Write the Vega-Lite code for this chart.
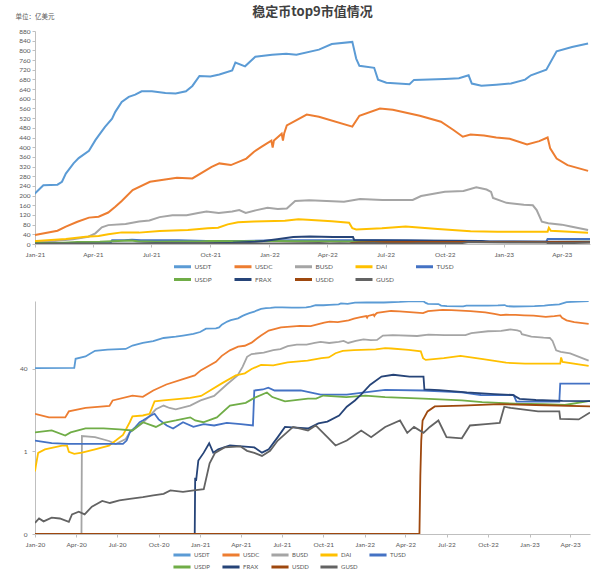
{
  "$schema": "https://vega.github.io/schema/vega-lite/v6.json",
  "padding": {"left": 15, "top": 6, "right": 8, "bottom": 2},
  "background": "white",
  "datasets": {
    "coins": [
      {"d":"2020-01-01","s":"USDT","v":41.5},{"d":"2020-03-28","s":"USDT","v":42},{"d":"2020-03-31","s":"USDT","v":63},{"d":"2020-04-22","s":"USDT","v":70},{"d":"2020-05-01","s":"USDT","v":78},{"d":"2020-05-13","s":"USDT","v":90},{"d":"2020-06-10","s":"USDT","v":95},{"d":"2020-07-20","s":"USDT","v":98},{"d":"2020-08-04","s":"USDT","v":114},{"d":"2020-08-27","s":"USDT","v":128},{"d":"2020-09-19","s":"USDT","v":139},{"d":"2020-10-12","s":"USDT","v":160},{"d":"2020-11-08","s":"USDT","v":170},{"d":"2020-11-24","s":"USDT","v":178},{"d":"2020-12-17","s":"USDT","v":192},{"d":"2021-01-01","s":"USDT","v":209},{"d":"2021-01-14","s":"USDT","v":243},{"d":"2021-02-05","s":"USDT","v":245},{"d":"2021-02-12","s":"USDT","v":257},{"d":"2021-02-18","s":"USDT","v":291},{"d":"2021-03-02","s":"USDT","v":333},{"d":"2021-03-10","s":"USDT","v":355},{"d":"2021-03-26","s":"USDT","v":385},{"d":"2021-04-05","s":"USDT","v":429},{"d":"2021-04-10","s":"USDT","v":448},{"d":"2021-04-20","s":"USDT","v":484},{"d":"2021-05-01","s":"USDT","v":518},{"d":"2021-05-06","s":"USDT","v":546},{"d":"2021-05-16","s":"USDT","v":587},{"d":"2021-05-27","s":"USDT","v":608},{"d":"2021-06-06","s":"USDT","v":617},{"d":"2021-06-16","s":"USDT","v":631},{"d":"2021-07-02","s":"USDT","v":631},{"d":"2021-07-23","s":"USDT","v":624},{"d":"2021-08-08","s":"USDT","v":622},{"d":"2021-08-24","s":"USDT","v":631},{"d":"2021-09-03","s":"USDT","v":653},{"d":"2021-09-14","s":"USDT","v":694},{"d":"2021-10-01","s":"USDT","v":692},{"d":"2021-10-15","s":"USDT","v":700},{"d":"2021-11-04","s":"USDT","v":717},{"d":"2021-11-09","s":"USDT","v":750},{"d":"2021-11-24","s":"USDT","v":734},{"d":"2021-12-10","s":"USDT","v":774},{"d":"2022-01-05","s":"USDT","v":782},{"d":"2022-01-27","s":"USDT","v":786},{"d":"2022-02-12","s":"USDT","v":782},{"d":"2022-03-19","s":"USDT","v":803},{"d":"2022-04-08","s":"USDT","v":826},{"d":"2022-05-10","s":"USDT","v":835},{"d":"2022-05-16","s":"USDT","v":766},{"d":"2022-05-21","s":"USDT","v":736},{"d":"2022-06-13","s":"USDT","v":728},{"d":"2022-06-19","s":"USDT","v":679},{"d":"2022-07-02","s":"USDT","v":666},{"d":"2022-08-07","s":"USDT","v":660},{"d":"2022-08-14","s":"USDT","v":678},{"d":"2022-10-01","s":"USDT","v":682},{"d":"2022-10-23","s":"USDT","v":685},{"d":"2022-11-07","s":"USDT","v":697},{"d":"2022-11-12","s":"USDT","v":663},{"d":"2022-11-27","s":"USDT","v":654},{"d":"2022-12-20","s":"USDT","v":658},{"d":"2023-01-12","s":"USDT","v":663},{"d":"2023-02-03","s":"USDT","v":679},{"d":"2023-02-12","s":"USDT","v":697},{"d":"2023-03-08","s":"USDT","v":720},{"d":"2023-03-24","s":"USDT","v":796},{"d":"2023-04-17","s":"USDT","v":814},{"d":"2023-05-12","s":"USDT","v":828},
      {"d":"2020-01-01","s":"USDC","v":5.4},{"d":"2020-02-01","s":"USDC","v":4.6},{"d":"2020-03-08","s":"USDC","v":4.6},{"d":"2020-03-16","s":"USDC","v":6.0},{"d":"2020-04-22","s":"USDC","v":7.0},{"d":"2020-06-14","s":"USDC","v":7.7},{"d":"2020-06-21","s":"USDC","v":9.8},{"d":"2020-08-04","s":"USDC","v":12.2},{"d":"2020-08-27","s":"USDC","v":11.5},{"d":"2020-09-19","s":"USDC","v":15.3},{"d":"2020-10-18","s":"USDC","v":20},{"d":"2020-11-24","s":"USDC","v":25.4},{"d":"2020-12-20","s":"USDC","v":30},{"d":"2021-01-03","s":"USDC","v":38},{"d":"2021-02-05","s":"USDC","v":55},{"d":"2021-02-18","s":"USDC","v":72},{"d":"2021-03-08","s":"USDC","v":92},{"d":"2021-03-26","s":"USDC","v":109},{"d":"2021-04-10","s":"USDC","v":113},{"d":"2021-04-25","s":"USDC","v":130},{"d":"2021-05-06","s":"USDC","v":154},{"d":"2021-05-16","s":"USDC","v":178},{"d":"2021-06-02","s":"USDC","v":223},{"d":"2021-06-29","s":"USDC","v":257},{"d":"2021-08-10","s":"USDC","v":274},{"d":"2021-09-03","s":"USDC","v":271},{"d":"2021-10-03","s":"USDC","v":319},{"d":"2021-10-15","s":"USDC","v":333},{"d":"2021-11-02","s":"USDC","v":326},{"d":"2021-11-26","s":"USDC","v":353},{"d":"2021-12-08","s":"USDC","v":381},{"d":"2021-12-20","s":"USDC","v":402},{"d":"2022-01-04","s":"USDC","v":427},{"d":"2022-01-06","s":"USDC","v":398},{"d":"2022-01-08","s":"USDC","v":428},{"d":"2022-01-20","s":"USDC","v":456},{"d":"2022-01-22","s":"USDC","v":427},{"d":"2022-01-24","s":"USDC","v":458},{"d":"2022-01-28","s":"USDC","v":490},{"d":"2022-02-28","s":"USDC","v":535},{"d":"2022-03-19","s":"USDC","v":526},{"d":"2022-05-10","s":"USDC","v":485},{"d":"2022-05-21","s":"USDC","v":530},{"d":"2022-06-22","s":"USDC","v":560},{"d":"2022-07-12","s":"USDC","v":555},{"d":"2022-08-23","s":"USDC","v":530},{"d":"2022-09-25","s":"USDC","v":505},{"d":"2022-10-15","s":"USDC","v":470},{"d":"2022-10-29","s":"USDC","v":443},{"d":"2022-11-10","s":"USDC","v":452},{"d":"2022-12-01","s":"USDC","v":448},{"d":"2022-12-20","s":"USDC","v":440},{"d":"2023-01-10","s":"USDC","v":435},{"d":"2023-02-06","s":"USDC","v":411},{"d":"2023-02-25","s":"USDC","v":425},{"d":"2023-03-10","s":"USDC","v":440},{"d":"2023-03-14","s":"USDC","v":395},{"d":"2023-03-24","s":"USDC","v":353},{"d":"2023-04-10","s":"USDC","v":326},{"d":"2023-05-12","s":"USDC","v":302},
      {"d":"2020-01-01","s":"BUSD","v":0.025},{"d":"2020-04-13","s":"BUSD","v":0.025},{"d":"2020-04-14","s":"BUSD","v":2.0},{"d":"2020-05-13","s":"BUSD","v":1.9},{"d":"2020-06-13","s":"BUSD","v":1.6},{"d":"2020-06-28","s":"BUSD","v":1.4},{"d":"2020-07-20","s":"BUSD","v":1.75},{"d":"2020-07-29","s":"BUSD","v":2.35},{"d":"2020-08-27","s":"BUSD","v":3.6},{"d":"2020-09-25","s":"BUSD","v":6.6},{"d":"2020-10-12","s":"BUSD","v":7.8},{"d":"2020-10-25","s":"BUSD","v":7.0},{"d":"2020-11-08","s":"BUSD","v":6.6},{"d":"2020-12-10","s":"BUSD","v":7.8},{"d":"2021-01-02","s":"BUSD","v":9.8},{"d":"2021-02-01","s":"BUSD","v":12},{"d":"2021-03-01","s":"BUSD","v":20},{"d":"2021-03-25","s":"BUSD","v":30},{"d":"2021-04-05","s":"BUSD","v":44},{"d":"2021-04-15","s":"BUSD","v":69},{"d":"2021-04-25","s":"BUSD","v":78},{"d":"2021-05-22","s":"BUSD","v":83},{"d":"2021-06-12","s":"BUSD","v":93},{"d":"2021-06-28","s":"BUSD","v":97},{"d":"2021-07-14","s":"BUSD","v":111},{"d":"2021-08-03","s":"BUSD","v":119},{"d":"2021-08-25","s":"BUSD","v":119},{"d":"2021-09-12","s":"BUSD","v":128},{"d":"2021-09-25","s":"BUSD","v":134},{"d":"2021-10-14","s":"BUSD","v":128},{"d":"2021-11-04","s":"BUSD","v":134},{"d":"2021-11-15","s":"BUSD","v":140},{"d":"2021-11-25","s":"BUSD","v":128},{"d":"2021-12-12","s":"BUSD","v":140},{"d":"2021-12-29","s":"BUSD","v":150},{"d":"2022-01-14","s":"BUSD","v":145},{"d":"2022-01-28","s":"BUSD","v":147},{"d":"2022-02-10","s":"BUSD","v":178},{"d":"2022-03-04","s":"BUSD","v":181},{"d":"2022-04-27","s":"BUSD","v":175},{"d":"2022-05-22","s":"BUSD","v":186},{"d":"2022-06-26","s":"BUSD","v":182},{"d":"2022-08-12","s":"BUSD","v":182},{"d":"2022-08-25","s":"BUSD","v":198},{"d":"2022-10-01","s":"BUSD","v":216},{"d":"2022-10-30","s":"BUSD","v":219},{"d":"2022-11-19","s":"BUSD","v":234},{"d":"2022-12-05","s":"BUSD","v":225},{"d":"2022-12-12","s":"BUSD","v":215},{"d":"2022-12-15","s":"BUSD","v":190},{"d":"2023-01-05","s":"BUSD","v":170},{"d":"2023-02-01","s":"BUSD","v":162},{"d":"2023-02-15","s":"BUSD","v":160},{"d":"2023-02-21","s":"BUSD","v":140},{"d":"2023-03-01","s":"BUSD","v":92},{"d":"2023-03-11","s":"BUSD","v":86},{"d":"2023-04-01","s":"BUSD","v":80},{"d":"2023-04-15","s":"BUSD","v":72},{"d":"2023-05-12","s":"BUSD","v":58},
      {"d":"2020-01-01","s":"DAI","v":0.41},{"d":"2020-01-03","s":"DAI","v":0.53},{"d":"2020-01-08","s":"DAI","v":0.94},{"d":"2020-01-23","s":"DAI","v":1.1},{"d":"2020-03-01","s":"DAI","v":1.3},{"d":"2020-03-12","s":"DAI","v":1.3},{"d":"2020-03-16","s":"DAI","v":0.99},{"d":"2020-03-28","s":"DAI","v":0.9},{"d":"2020-04-14","s":"DAI","v":0.95},{"d":"2020-05-13","s":"DAI","v":1.1},{"d":"2020-06-13","s":"DAI","v":1.3},{"d":"2020-06-28","s":"DAI","v":1.63},{"d":"2020-07-14","s":"DAI","v":2.1},{"d":"2020-07-29","s":"DAI","v":3.7},{"d":"2020-08-04","s":"DAI","v":4.8},{"d":"2020-08-27","s":"DAI","v":5.0},{"d":"2020-09-11","s":"DAI","v":5.4},{"d":"2020-09-22","s":"DAI","v":9.4},{"d":"2020-10-12","s":"DAI","v":9.8},{"d":"2020-12-10","s":"DAI","v":11},{"d":"2021-01-03","s":"DAI","v":12},{"d":"2021-02-18","s":"DAI","v":21},{"d":"2021-03-21","s":"DAI","v":30},{"d":"2021-04-10","s":"DAI","v":33},{"d":"2021-04-25","s":"DAI","v":40},{"d":"2021-05-16","s":"DAI","v":48},{"d":"2021-06-12","s":"DAI","v":47},{"d":"2021-07-14","s":"DAI","v":54},{"d":"2021-08-27","s":"DAI","v":58},{"d":"2021-09-27","s":"DAI","v":65},{"d":"2021-10-13","s":"DAI","v":67},{"d":"2021-10-28","s":"DAI","v":81},{"d":"2021-11-13","s":"DAI","v":90},{"d":"2021-12-08","s":"DAI","v":93},{"d":"2022-01-25","s":"DAI","v":96},{"d":"2022-02-15","s":"DAI","v":102},{"d":"2022-03-01","s":"DAI","v":100},{"d":"2022-04-08","s":"DAI","v":94},{"d":"2022-05-05","s":"DAI","v":88},{"d":"2022-05-10","s":"DAI","v":65},{"d":"2022-05-16","s":"DAI","v":60},{"d":"2022-06-25","s":"DAI","v":65},{"d":"2022-08-01","s":"DAI","v":72},{"d":"2022-09-20","s":"DAI","v":62},{"d":"2022-11-10","s":"DAI","v":53},{"d":"2022-12-22","s":"DAI","v":51},{"d":"2023-03-10","s":"DAI","v":51},{"d":"2023-03-12","s":"DAI","v":67},{"d":"2023-03-15","s":"DAI","v":55},{"d":"2023-05-12","s":"DAI","v":46},
      {"d":"2020-01-01","s":"TUSD","v":1.63},{"d":"2020-02-07","s":"TUSD","v":1.45},{"d":"2020-03-15","s":"TUSD","v":1.4},{"d":"2020-05-01","s":"TUSD","v":1.4},{"d":"2020-07-14","s":"TUSD","v":1.4},{"d":"2020-07-22","s":"TUSD","v":1.63},{"d":"2020-07-29","s":"TUSD","v":2.35},{"d":"2020-08-11","s":"TUSD","v":3.0},{"d":"2020-08-20","s":"TUSD","v":3.7},{"d":"2020-08-27","s":"TUSD","v":4.0},{"d":"2020-09-14","s":"TUSD","v":5.0},{"d":"2020-09-22","s":"TUSD","v":5.4},{"d":"2020-10-01","s":"TUSD","v":4.2},{"d":"2020-10-19","s":"TUSD","v":3.2},{"d":"2020-11-02","s":"TUSD","v":2.8},{"d":"2020-11-24","s":"TUSD","v":3.7},{"d":"2020-12-17","s":"TUSD","v":3.0},{"d":"2021-01-09","s":"TUSD","v":3.4},{"d":"2021-02-01","s":"TUSD","v":3.2},{"d":"2021-03-01","s":"TUSD","v":3.6},{"d":"2021-04-01","s":"TUSD","v":3.4},{"d":"2021-04-28","s":"TUSD","v":3.2},{"d":"2021-05-01","s":"TUSD","v":15.3},{"d":"2021-05-20","s":"TUSD","v":16},{"d":"2021-06-01","s":"TUSD","v":17.4},{"d":"2021-06-15","s":"TUSD","v":15.3},{"d":"2021-08-12","s":"TUSD","v":15.3},{"d":"2021-09-25","s":"TUSD","v":12.7},{"d":"2021-11-22","s":"TUSD","v":12.7},{"d":"2022-01-01","s":"TUSD","v":14},{"d":"2022-02-15","s":"TUSD","v":15.7},{"d":"2022-05-11","s":"TUSD","v":15.3},{"d":"2022-08-04","s":"TUSD","v":14},{"d":"2022-09-15","s":"TUSD","v":12.5},{"d":"2022-11-27","s":"TUSD","v":12.4},{"d":"2022-12-03","s":"TUSD","v":9.3},{"d":"2023-03-08","s":"TUSD","v":9.3},{"d":"2023-03-10","s":"TUSD","v":20.8},{"d":"2023-05-15","s":"TUSD","v":20.8},
      {"d":"2020-01-01","s":"USDP","v":2.35},{"d":"2020-02-07","s":"USDP","v":2.56},{"d":"2020-03-08","s":"USDP","v":2.04},{"d":"2020-03-20","s":"USDP","v":2.35},{"d":"2020-04-22","s":"USDP","v":2.8},{"d":"2020-06-01","s":"USDP","v":2.8},{"d":"2020-07-06","s":"USDP","v":2.7},{"d":"2020-08-04","s":"USDP","v":2.56},{"d":"2020-08-27","s":"USDP","v":3.7},{"d":"2020-09-25","s":"USDP","v":3.0},{"d":"2020-10-12","s":"USDP","v":3.6},{"d":"2020-11-08","s":"USDP","v":4.0},{"d":"2020-12-10","s":"USDP","v":4.6},{"d":"2020-12-21","s":"USDP","v":4.0},{"d":"2021-01-08","s":"USDP","v":3.7},{"d":"2021-02-07","s":"USDP","v":4.6},{"d":"2021-03-08","s":"USDP","v":7.8},{"d":"2021-04-12","s":"USDP","v":8.8},{"d":"2021-05-01","s":"USDP","v":11},{"d":"2021-05-29","s":"USDP","v":14},{"d":"2021-06-10","s":"USDP","v":11.4},{"d":"2021-07-08","s":"USDP","v":9.4},{"d":"2021-08-28","s":"USDP","v":10.6},{"d":"2021-09-15","s":"USDP","v":10.6},{"d":"2021-10-01","s":"USDP","v":12.2},{"d":"2021-11-21","s":"USDP","v":11.4},{"d":"2022-01-02","s":"USDP","v":12.2},{"d":"2022-02-15","s":"USDP","v":11.4},{"d":"2022-05-11","s":"USDP","v":10.6},{"d":"2022-08-04","s":"USDP","v":9.8},{"d":"2022-09-18","s":"USDP","v":9.1},{"d":"2022-12-01","s":"USDP","v":8.5},{"d":"2023-02-01","s":"USDP","v":8.3},{"d":"2023-03-20","s":"USDP","v":8.0},{"d":"2023-05-15","s":"USDP","v":9.6},
      {"d":"2020-01-01","s":"FRAX","v":0.025},{"d":"2020-12-20","s":"FRAX","v":0.025},{"d":"2020-12-21","s":"FRAX","v":0.31},{"d":"2020-12-23","s":"FRAX","v":0.27},{"d":"2020-12-28","s":"FRAX","v":0.67},{"d":"2021-01-09","s":"FRAX","v":0.95},{"d":"2021-01-21","s":"FRAX","v":1.45},{"d":"2021-01-30","s":"FRAX","v":0.95},{"d":"2021-02-10","s":"FRAX","v":1.1},{"d":"2021-03-08","s":"FRAX","v":1.31},{"d":"2021-05-01","s":"FRAX","v":1.2},{"d":"2021-05-18","s":"FRAX","v":0.95},{"d":"2021-06-02","s":"FRAX","v":1.1},{"d":"2021-06-22","s":"FRAX","v":1.9},{"d":"2021-07-08","s":"FRAX","v":3.0},{"d":"2021-08-28","s":"FRAX","v":2.8},{"d":"2021-09-20","s":"FRAX","v":3.5},{"d":"2021-10-10","s":"FRAX","v":3.8},{"d":"2021-11-05","s":"FRAX","v":5.0},{"d":"2021-11-22","s":"FRAX","v":7.4},{"d":"2021-12-10","s":"FRAX","v":9.8},{"d":"2021-12-23","s":"FRAX","v":12.6},{"d":"2022-01-13","s":"FRAX","v":19.8},{"d":"2022-02-07","s":"FRAX","v":28.5},{"d":"2022-03-05","s":"FRAX","v":30.9},{"d":"2022-04-10","s":"FRAX","v":28.5},{"d":"2022-05-11","s":"FRAX","v":28.5},{"d":"2022-05-13","s":"FRAX","v":16},{"d":"2022-06-15","s":"FRAX","v":15.5},{"d":"2022-08-15","s":"FRAX","v":14},{"d":"2022-10-15","s":"FRAX","v":13},{"d":"2022-11-25","s":"FRAX","v":12.5},{"d":"2022-12-10","s":"FRAX","v":10.5},{"d":"2023-01-15","s":"FRAX","v":10},{"d":"2023-03-15","s":"FRAX","v":9.6},{"d":"2023-05-15","s":"FRAX","v":9.5},
      {"d":"2020-01-01","s":"USDD","v":0.025},{"d":"2022-05-02","s":"USDD","v":0.025},{"d":"2022-05-04","s":"USDD","v":0.34},{"d":"2022-05-06","s":"USDD","v":1.63},{"d":"2022-05-09","s":"USDD","v":4.0},{"d":"2022-05-20","s":"USDD","v":6.0},{"d":"2022-06-05","s":"USDD","v":7.5},{"d":"2022-08-04","s":"USDD","v":7.8},{"d":"2022-10-27","s":"USDD","v":8.3},{"d":"2023-01-15","s":"USDD","v":8.0},{"d":"2023-05-15","s":"USDD","v":7.5},
      {"d":"2020-01-01","s":"GUSD","v":0.041},{"d":"2020-01-10","s":"GUSD","v":0.05},{"d":"2020-01-20","s":"GUSD","v":0.044},{"d":"2020-02-07","s":"GUSD","v":0.052},{"d":"2020-02-25","s":"GUSD","v":0.05},{"d":"2020-03-16","s":"GUSD","v":0.043},{"d":"2020-03-23","s":"GUSD","v":0.06},{"d":"2020-04-07","s":"GUSD","v":0.068},{"d":"2020-04-20","s":"GUSD","v":0.06},{"d":"2020-05-06","s":"GUSD","v":0.085},{"d":"2020-05-29","s":"GUSD","v":0.11},{"d":"2020-06-15","s":"GUSD","v":0.1},{"d":"2020-07-06","s":"GUSD","v":0.112},{"d":"2020-07-29","s":"GUSD","v":0.12},{"d":"2020-08-27","s":"GUSD","v":0.13},{"d":"2020-09-19","s":"GUSD","v":0.14},{"d":"2020-10-12","s":"GUSD","v":0.15},{"d":"2020-10-27","s":"GUSD","v":0.175},{"d":"2020-11-24","s":"GUSD","v":0.165},{"d":"2020-12-18","s":"GUSD","v":0.175},{"d":"2021-01-09","s":"GUSD","v":0.185},{"d":"2021-01-22","s":"GUSD","v":0.59},{"d":"2021-02-03","s":"GUSD","v":0.94},{"d":"2021-02-24","s":"GUSD","v":1.2},{"d":"2021-03-31","s":"GUSD","v":1.26},{"d":"2021-04-15","s":"GUSD","v":1.03},{"d":"2021-05-01","s":"GUSD","v":0.94},{"d":"2021-05-18","s":"GUSD","v":0.82},{"d":"2021-06-05","s":"GUSD","v":1.03},{"d":"2021-06-22","s":"GUSD","v":1.63},{"d":"2021-07-26","s":"GUSD","v":3.0},{"d":"2021-08-28","s":"GUSD","v":2.56},{"d":"2021-09-14","s":"GUSD","v":3.2},{"d":"2021-10-10","s":"GUSD","v":1.9},{"d":"2021-10-28","s":"GUSD","v":1.31},{"d":"2021-11-22","s":"GUSD","v":1.63},{"d":"2021-12-24","s":"GUSD","v":2.56},{"d":"2022-01-15","s":"GUSD","v":1.9},{"d":"2022-02-15","s":"GUSD","v":3.0},{"d":"2022-03-20","s":"GUSD","v":4.0},{"d":"2022-04-05","s":"GUSD","v":2.3},{"d":"2022-04-20","s":"GUSD","v":3.0},{"d":"2022-05-11","s":"GUSD","v":2.3},{"d":"2022-05-25","s":"GUSD","v":3.0},{"d":"2022-06-13","s":"GUSD","v":4.0},{"d":"2022-07-01","s":"GUSD","v":1.9},{"d":"2022-08-04","s":"GUSD","v":1.8},{"d":"2022-08-22","s":"GUSD","v":3.2},{"d":"2022-09-26","s":"GUSD","v":3.4},{"d":"2022-10-27","s":"GUSD","v":3.6},{"d":"2022-11-06","s":"GUSD","v":7.4},{"d":"2022-11-20","s":"GUSD","v":7.0},{"d":"2023-01-20","s":"GUSD","v":6.0},{"d":"2023-03-08","s":"GUSD","v":6.0},{"d":"2023-03-10","s":"GUSD","v":4.3},{"d":"2023-04-20","s":"GUSD","v":4.2},{"d":"2023-05-15","s":"GUSD","v":5.7}
    ]
  },
  "bounds": "flush",
  "spacing": 57,
  "resolve": {"scale": {"x": "independent", "y": "independent", "color": "shared"}, "legend": {"color": "independent"}},
  "vconcat": [
    {
      "width": 555,
      "height": 213,
      "title": {"text": "稳定币top9市值情况", "font": "Noto Sans CJK SC", "fontSize": 13, "fontWeight": "bold", "color": "#404040", "anchor": "middle", "offset": -6},
      "data": {"name": "coins"},
      "mark": {"type": "line", "strokeWidth": 2, "clip": true},
      "encoding": {
        "x": {"field": "d", "type": "temporal",
          "scale": {"type": "utc", "domain": [{"year": 2021, "month": 1, "date": 1, "utc": true}, {"year": 2023, "month": 5, "date": 15, "utc": true}], "nice": false},
          "axis": {"title": null, "format": "%b-%y", "tickCount": {"interval": "month", "step": 3}, "labelFlush": false, "labelOverlap": false, "labelPadding": 4}},
        "y": {"field": "v", "type": "quantitative",
          "scale": {"domain": [0, 880], "nice": false},
          "axis": {"title": "单位：亿美元", "titleAngle": 0, "titleAlign": "left", "titleBaseline": "middle", "titleX": -20, "titleY": -15, "titleFont": "Noto Sans CJK SC", "titleFontSize": 6.5, "titleFontWeight": "normal", "titleColor": "#595959",
            "values": [0,40,80,120,160,200,240,280,320,360,400,440,480,520,560,600,640,680,720,760,800,840,880]}},
        "color": {"field": "s", "type": "nominal",
          "scale": {"domain": ["USDT","USDC","BUSD","DAI","TUSD","USDP","FRAX","USDD","GUSD"], "range": ["#5B9BD5","#ED7D31","#A5A5A5","#FFC000","#4472C4","#70AD47","#264478","#9E480E","#636363"]},
          "legend": {"orient": "none", "legendX": 141, "legendY": 229, "columns": 5, "direction": "horizontal", "title": null, "symbolType": "M-1.7,0H1.7", "symbolSize": 100, "symbolStrokeWidth": 3, "labelFontSize": 6.5, "labelFont": "Lato", "labelColor": "#595959", "labelOffset": 5.5, "columnPadding": 15.5, "rowPadding": -2, "gridAlign": "all"}}
      }
    },
    {
      "width": 555,
      "height": 233,
      "data": {"name": "coins"},
      "mark": {"type": "line", "strokeWidth": 1.8, "clip": true},
      "encoding": {
        "x": {"field": "d", "type": "temporal",
          "scale": {"type": "utc", "domain": [{"year": 2020, "month": 1, "date": 1, "utc": true}, {"year": 2023, "month": 5, "date": 15, "utc": true}], "nice": false},
          "axis": {"title": null, "format": "%b-%y", "tickCount": {"interval": "month", "step": 3}, "labelFlush": false, "labelOverlap": false, "labelPadding": 4}},
        "y": {"field": "v", "type": "quantitative",
          "scale": {"type": "log", "base": 40, "domain": [0.025, 836], "nice": false},
          "axis": {"title": null, "values": [0.025, 1, 40], "format": ".0f", "labelPadding": 5}},
        "color": {"field": "s", "type": "nominal",
          "scale": {"domain": ["USDT","USDC","BUSD","DAI","TUSD","USDP","FRAX","USDD","GUSD"], "range": ["#5B9BD5","#ED7D31","#A5A5A5","#FFC000","#4472C4","#70AD47","#264478","#9E480E","#636363"]},
          "legend": {"orient": "none", "legendX": 141, "legendY": 248, "columns": 5, "direction": "horizontal", "title": null, "symbolType": "M-1.9,0H1.9", "symbolSize": 81, "symbolStrokeWidth": 3, "labelFontSize": 6, "labelFont": "Lato", "labelColor": "#595959", "labelOffset": 6, "columnPadding": 5, "rowPadding": -2, "gridAlign": "all"}}
      }
    }
  ],
  "config": {
    "view": {"stroke": null},
    "axis": {"labelFont": "Lato", "labelFontSize": 6.5, "labelColor": "#595959", "domainColor": "#BFBFBF", "tickColor": "#BFBFBF", "tickSize": 3, "grid": false, "labelPadding": 2}
  }
}
